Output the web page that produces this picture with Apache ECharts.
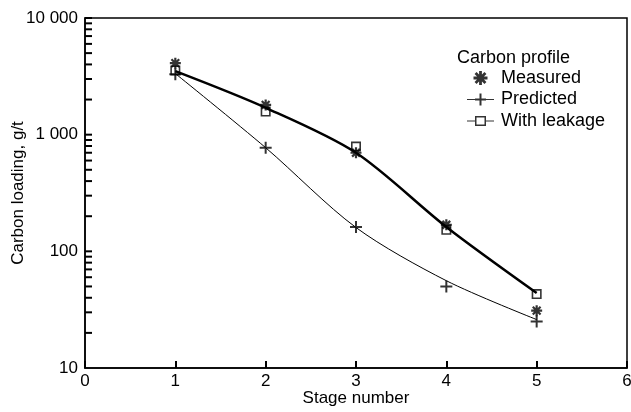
<!DOCTYPE html>
<html>
<head>
<meta charset="utf-8">
<script src="https://cdn.jsdelivr.net/npm/echarts@6/dist/echarts.min.js"></script>
<style>
  html, body { margin: 0; padding: 0; background: #fff; }
  #carbonChart { width: 631px; height: 412px; }
</style>
</head>
<body>
<div id="carbonChart"></div>
<script>
  // stages on the x axis
  var stages = [1, 2, 3, 4, 5];
  // measured points (asterisks)
  var measured = [4100, 1800, 700, 169, 31];
  // predicted points (plus signs)
  var predicted = [3300, 773, 162, 50, 25];
  // predicted with leakage (open squares)
  var withLeakage = [3550, 1580, 790, 153, 43];
  // drawn profile curves
  var leakageCurve = [3500, 1700, 700, 162, 44];
  var predictedCurve = [3340, 773, 160, 56, 26];
  // axis ticks
  var yTickValues = [20, 30, 40, 50, 60, 70, 80, 90,
    100, 200, 300, 400, 500, 600, 700, 800, 900,
    1000, 2000, 3000, 4000, 5000, 6000, 7000, 8000, 9000, 10000];

  var fontName = 'Liberation Sans, Arial, sans-serif';

  var starPath = 'path://M4.8,0H7.2V12H4.8Z M0,4.8H12V7.2H0Z' +
    ' M2.61,0.91L11.09,9.39L9.39,11.09L0.91,2.61Z' +
    ' M9.39,0.91L11.09,2.61L2.61,11.09L0.91,9.39Z';
  var plusPath = 'path://M5,0H7V5H12V7H7V12H5V7H0V5H5Z';
  var boxPath = 'path://M0,0H10V10H0Z M1.6,1.6V8.4H8.4V1.6Z';
  var plusIcon = 'path://M0,6.5H8V6H12.5V1H14.5V6H19V6.5H27V7.5H19V8H14.5V13H12.5V8H8V7.5H0Z';
  var boxIcon = 'path://M0,6.5H8V2H19V6.5H27V7.5H19V12H8V7.5H0Z M9.5,3.5V10.5H17.5V3.5Z';

  function pairs(values) {
    return stages.map(function (s, i) { return [s, values[i]]; });
  }

  function fmtThousands(v) {
    return String(v).replace(/\B(?=(\d{3})+(?!\d))/g, ' ');
  }

  var chart = echarts.init(document.getElementById('carbonChart'));
  chart.setOption({
    animation: false,
    textStyle: { fontFamily: fontName, color: '#000' },
    title: {
      text: 'Carbon profile',
      left: 452,
      top: 44,
      textStyle: { fontSize: 18, fontWeight: 'normal', color: '#000', fontFamily: fontName }
    },
    legend: {
      orient: 'vertical',
      left: 462,
      top: 64,
      itemWidth: 27,
      itemHeight: 14,
      itemGap: 3.5,
      textStyle: { fontSize: 18, color: '#000', fontFamily: fontName, padding: [0, 0, 0, 2] },
      data: [
        { name: 'Measured', icon: starPath },
        { name: 'Predicted', icon: plusIcon },
        { name: 'With leakage', icon: boxIcon }
      ]
    },
    grid: {
      left: 85,
      right: 4,
      top: 18,
      bottom: 44,
      outerBoundsMode: 'none',
      containLabel: false,
      show: true,
      borderColor: '#000',
      borderWidth: 1.5,
      backgroundColor: 'transparent'
    },
    xAxis: {
      type: 'value',
      min: 0,
      max: 6,
      interval: 1,
      name: 'Stage number',
      nameLocation: 'middle',
      nameGap: 22,
      nameMoveOverlap: false,
      nameTextStyle: { fontSize: 17, color: '#000', fontFamily: fontName },
      axisLine: { lineStyle: { color: '#000', width: 1.5 } },
      axisTick: { show: true, inside: true, length: 7, lineStyle: { color: '#000', width: 2 } },
      axisLabel: { fontSize: 17, color: '#000', margin: 5, fontFamily: fontName },
      splitLine: { show: false }
    },
    yAxis: {
      type: 'log',
      logBase: 10,
      min: 10,
      max: 10000,
      name: 'Carbon loading, g/t',
      nameLocation: 'middle',
      nameGap: 58,
      nameMoveOverlap: false,
      nameTextStyle: { fontSize: 17, color: '#000', fontFamily: fontName },
      axisLine: { lineStyle: { color: '#000', width: 1.5 } },
      axisTick: { show: false },
      axisLabel: {
        fontSize: 17,
        color: '#000',
        margin: 7,
        fontFamily: fontName,
        formatter: function (v) { return fmtThousands(v); }
      },
      splitLine: { show: false }
    },
    series: [
      {
        name: 'Leakage curve',
        type: 'line',
        smooth: 0.3,
        symbol: 'none',
        lineStyle: { color: '#000', width: 2.5 },
        data: pairs(leakageCurve),
        z: 2
      },
      {
        name: 'Predicted curve',
        type: 'line',
        smooth: 0.3,
        symbol: 'none',
        lineStyle: { color: '#000', width: 1 },
        data: pairs(predictedCurve),
        z: 2
      },
      {
        name: 'Measured',
        type: 'scatter',
        symbol: starPath,
        symbolSize: 11,
        itemStyle: { color: '#000' },
        data: pairs(measured),
        z: 4
      },
      {
        name: 'Predicted',
        type: 'scatter',
        symbol: plusPath,
        symbolSize: 12,
        itemStyle: { color: '#000' },
        data: pairs(predicted),
        z: 4
      },
      {
        name: 'With leakage',
        type: 'scatter',
        symbol: boxPath,
        symbolSize: 10,
        itemStyle: { color: '#000' },
        data: pairs(withLeakage),
        z: 3
      }
    ]
  });

  // inward tick marks on the log axis, positioned through the axis scale
  var tickMarks = yTickValues.map(function (v) {
    var p = chart.convertToPixel({ gridIndex: 0 }, [0, v]);
    return {
      type: 'line',
      shape: { x1: p[0], y1: p[1], x2: p[0] + 7, y2: p[1] },
      style: { stroke: '#000', lineWidth: 2 },
      silent: true,
      z: 5
    };
  });
  chart.setOption({ graphic: tickMarks });
</script>
</body>
</html>
